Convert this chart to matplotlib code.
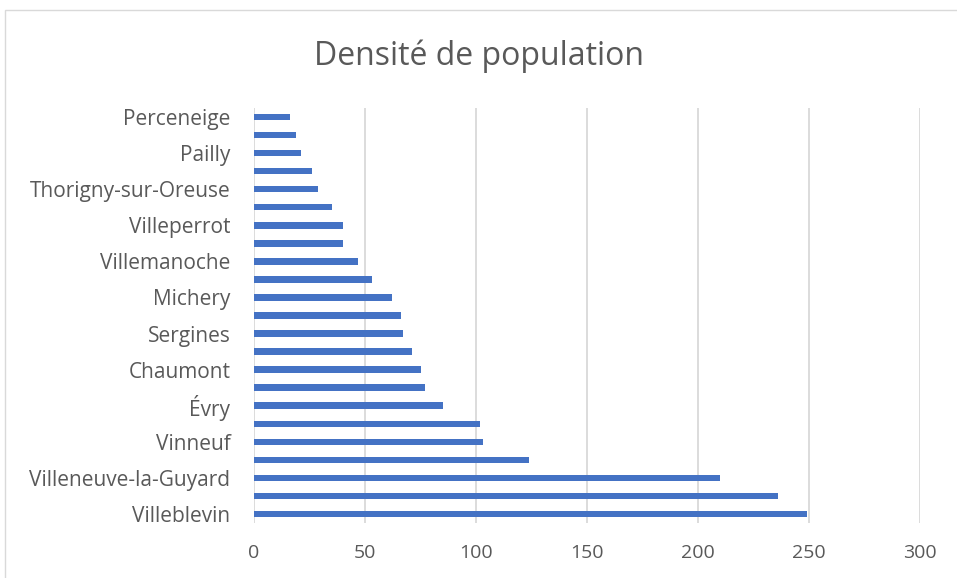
"""Horizontal bar chart: population density by commune."""

import matplotlib

matplotlib.use("Agg")
import matplotlib.pyplot as plt
from matplotlib.patches import Rectangle

# bottom to top, as drawn; unlabeled categories are skipped on the axis
communes = [
    "Villeblevin", "", "Villeneuve-la-Guyard", "", "Vinneuf", "", "Évry", "",
    "Chaumont", "", "Sergines", "", "Michery", "", "Villemanoche", "",
    "Villeperrot", "", "Thorigny-sur-Oreuse", "", "Pailly", "", "Perceneige",
]
density = [
    249, 236, 210, 124, 103, 102, 85, 77,
    75, 71, 67, 66, 62, 53, 47, 40,
    40, 35, 29, 26, 21, 19, 16,
]
x_ticks = [0, 50, 100, 150, 200, 250, 300]

BAR_COLOR = "#4472C4"
TEXT_COLOR = "#595959"
GRID_COLOR = "#D9D9D9"

plt.rcParams["font.family"] = ["Open Sans", "DejaVu Sans"]

fig = plt.figure(figsize=(9.57, 5.78), dpi=100)
ax = fig.add_axes([254 / 957, 1 - 523 / 578, (920 - 254) / 957, (523 - 108) / 578])

positions = list(range(len(density)))
ax.barh(positions, density, height=0.36, color=BAR_COLOR, zorder=3)

ax.set_xlim(0, 300)
ax.set_ylim(-0.5, len(density) - 0.5)
ax.set_xticks(x_ticks)
ax.set_xticklabels([str(t) for t in x_ticks])
ax.set_yticks(positions[::2])
ax.set_yticklabels(communes[::2])

ax.grid(axis="x", color=GRID_COLOR, linewidth=1.3, zorder=0)
ax.grid(axis="y", visible=False)
for spine in ax.spines.values():
    spine.set_visible(False)
ax.tick_params(axis="y", length=0, labelsize=15, colors=TEXT_COLOR, pad=17)
ax.tick_params(axis="x", length=0, labelsize=14, colors=TEXT_COLOR, pad=15)

fig.text(0.5, 1 - 56 / 578, "Densité de population", ha="center", va="center",
         fontsize=23, color=TEXT_COLOR)

# chart area border
fig.patches.append(Rectangle((4.5 / 957, -0.05), 1.1, 1.05 - 9.5 / 578,
                             transform=fig.transFigure, fill=False,
                             edgecolor=GRID_COLOR, linewidth=1.0))

fig.savefig("out.png", dpi=100)
